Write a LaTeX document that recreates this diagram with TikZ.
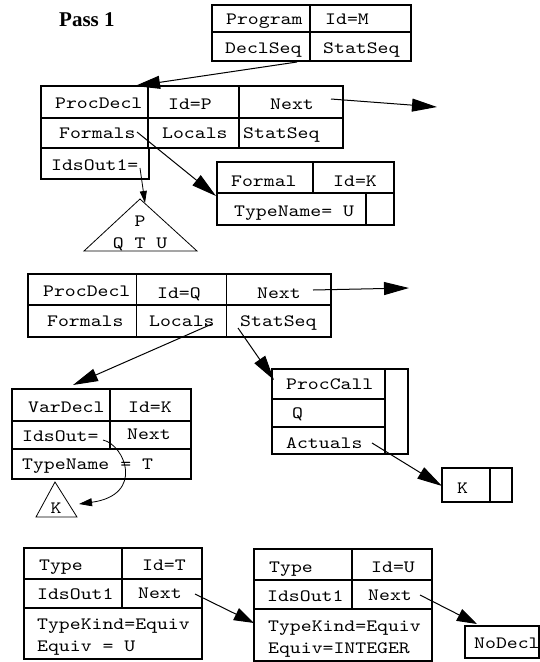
\documentclass[tikz,border=0pt]{standalone}
\usepackage{fontspec}
\setmainfont{Liberation Serif}
\newfontfamily\codefont{lmmono10-regular}[Extension=.otf, FakeStretch=1.2]
\usetikzlibrary{arrows.meta}
\begin{document}
\begin{tikzpicture}[x=1pt,y=-1pt,
  frame/.style={draw, line width=1.1pt, inner sep=0pt, outer sep=0pt, anchor=north west},
  rule/.style={line width=1.1pt},
  lbl/.style={font=\codefont\fontsize{17.3}{20}\selectfont, inner sep=0pt, anchor=base west},
  ptr/.style={line width=1pt, -{Triangle[length=25pt,width=13pt]}},
  ptrmid/.style={line width=1pt, -{Triangle[length=20pt,width=13pt]}},
  ptrsmall/.style={line width=0.8pt, -{Triangle[length=12pt,width=7pt]}},
]
\useasboundingbox (0,0) rectangle (540,662);

% heading
\node[font=\bfseries\fontsize{21}{24}\selectfont, inner sep=0pt, anchor=base west] (title) at (59,26) {Pass 1};

% Program record
\node[frame, minimum width=199pt, minimum height=56pt] (prog) at (212,5) {};
\draw[rule] (212,32) -- (411,32) (310,5) -- (310,61);
\node[lbl] (progName) at (226,24) {Program};
\node[lbl] (progId)   at (325,24) {Id=M};
\node[lbl] (progDecl) at (225,53) {DeclSeq};
\node[lbl] (progStat) at (323,53) {StatSeq};

% ProcDecl P record
\node[frame, minimum width=302pt, minimum height=62pt] (procP) at (41,86) {};
\draw[rule] (41,118) -- (343,118) (148,86) -- (148,148) (239,86) -- (239,148);
\node[frame, minimum width=108pt, minimum height=31pt] (procPids) at (41,148) {};
\node[lbl] (pName)    at (55,108)  {ProcDecl};
\node[lbl] (pId)      at (168,109) {Id=P};
\node[lbl] (pNext)    at (270,109) {Next};
\node[lbl] (pFormals) at (59,138)  {Formals};
\node[lbl] (pLocals)  at (162,138) {Locals};
\node[lbl] (pStat)    at (243,138) {StatSeq};
\node[lbl] (pIds)     at (51,170)  {IdsOut1=};

% Formal K record
\node[frame, minimum width=177pt, minimum height=63pt] (formal) at (217,162) {};
\draw[rule] (217,193) -- (394,193) (313,162) -- (313,193) (366,193) -- (366,225);
\node[lbl] (fName) at (231,186) {Formal};
\node[lbl] (fId)   at (333,186) {Id=K};
\node[lbl] (fType) at (234,216) {TypeName= U};

% identifier tree of P
\draw[line width=0.8pt] (140,199) -- (84,251) -- (197,251) -- cycle;
\node[lbl, anchor=base] (treeTop) at (140,226) {P};
\node[lbl, anchor=base] (treeRow) at (140,248) {Q T U};

% ProcDecl Q record
\node[frame, minimum width=303pt, minimum height=63pt] (procQ) at (28,274) {};
\draw[rule] (28,305) -- (331,305) (136.5,274) -- (136.5,337) (226.5,274) -- (226.5,337);
\node[lbl] (qName)    at (43,296)  {ProcDecl};
\node[lbl] (qId)      at (157,298) {Id=Q};
\node[lbl] (qNext)    at (257,298) {Next};
\node[lbl] (qFormals) at (47,326)  {Formals};
\node[lbl] (qLocals)  at (149,326) {Locals};
\node[lbl] (qStat)    at (240,326) {StatSeq};

% VarDecl K record
\node[frame, minimum width=179pt, minimum height=90pt] (varK) at (12,389) {};
\draw[rule] (12,421) -- (191,421) (12,449) -- (191,449) (110,389) -- (110,449);
\node[lbl] (vName) at (28,412)  {VarDecl};
\node[lbl] (vId)   at (128,412) {Id=K};
\node[lbl] (vIds)  at (22,441)  {IdsOut=};
\node[lbl] (vNext) at (127,439) {Next};
\node[lbl] (vType) at (22,469)  {TypeName = T};

% identifier tree of K
\draw[line width=0.8pt] (55,482) -- (36,517) -- (77,517) -- cycle;
\node[lbl, anchor=base] (treeK) at (56,513) {K};

% ProcCall record
\node[frame, minimum width=136pt, minimum height=85pt] (call) at (272,369) {};
\draw[rule] (385,369) -- (385,454) (272,399) -- (385,399) (272,427) -- (385,427);
\node[lbl] (cName) at (286,389) {ProcCall};
\node[lbl] (cProc) at (292,418) {Q};
\node[lbl] (cArgs) at (286,448) {Actuals};

% actual parameter
\node[frame, minimum width=70pt, minimum height=34pt] (actual) at (442,468) {};
\draw[rule] (490,468) -- (490,502);
\node[lbl] (aName) at (457,493) {K};

% Type T record
\node[frame, minimum width=178pt, minimum height=111pt] (typeT) at (24,548) {};
\draw[rule] (24,579) -- (202,579) (24,608) -- (202,608) (122,548) -- (122,608);
\node[lbl] (tName)  at (39,570)  {Type};
\node[lbl] (tId)    at (142,570) {Id=T};
\node[lbl] (tIds)   at (37,599)  {IdsOut1};
\node[lbl] (tNext)  at (138,598) {Next};
\node[lbl] (tKind)  at (37,629)  {TypeKind=Equiv};
\node[lbl] (tEquiv) at (37,651)  {Equiv = U};

% Type U record
\node[frame, minimum width=178pt, minimum height=112pt] (typeU) at (254,549) {};
\draw[rule] (254,580) -- (432,580) (254,609) -- (432,609) (352,549) -- (352,609);
\node[lbl] (uName)  at (269,572) {Type};
\node[lbl] (uId)    at (371,572) {Id=U};
\node[lbl] (uIds)   at (267,601) {IdsOut1};
\node[lbl] (uNext)  at (368,600) {Next};
\node[lbl] (uKind)  at (268,631) {TypeKind=Equiv};
\node[lbl] (uEquiv) at (268,653) {Equiv=INTEGER};

% end of the type list
\node[frame, minimum width=74pt, minimum height=32pt] (noDecl) at (465,626) {};
\node[lbl] (nName) at (474,648) {NoDecl};

% pointer ends
\coordinate (declFrom)    at (297,62);
\coordinate (declTo)      at (135,86);
\coordinate (pNextFrom)   at (331,99);
\coordinate (pNextTo)     at (437,107);
\coordinate (formalsFrom) at (137,132);
\coordinate (formalsTo)   at (216,196);
\coordinate (pIdsFrom)    at (140,168);
\coordinate (pIdsTo)      at (145,203);
\coordinate (localsFrom)  at (212,324);
\coordinate (localsTo)    at (73,385);
\coordinate (qStatFrom)   at (238,328);
\coordinate (qStatTo)     at (274,380);
\coordinate (qNextFrom)   at (313,290);
\coordinate (qNextTo)     at (409,288);
\coordinate (vIdsFrom)    at (103,440);
\coordinate (vIdsTo)      at (79,504);
\coordinate (argsFrom)    at (372,443);
\coordinate (argsTo)      at (442,486);
\coordinate (tNextFrom)   at (195,594);
\coordinate (tNextTo)     at (254,623);
\coordinate (uNextFrom)   at (420,595);
\coordinate (uNextTo)     at (477,624);

% pointers
\draw[ptr] (declFrom) -- (declTo);
\draw[ptr] (pNextFrom) -- (pNextTo);
\draw[ptr] (formalsFrom) -- (formalsTo);
\draw[ptrsmall] (pIdsFrom) -- (pIdsTo);
\draw[ptr] (localsFrom) -- (localsTo);
\draw[ptr] (qStatFrom) -- (qStatTo);
\draw[ptr] (qNextFrom) -- (qNextTo);
\draw[line width=0.8pt, -{Triangle[length=13pt,width=8pt]}] (vIdsFrom) .. controls (125,445) and (145,495) .. (vIdsTo);
\draw[ptr] (argsFrom) -- (argsTo);
\draw[ptrmid] (tNextFrom) -- (tNextTo);
\draw[ptrmid] (uNextFrom) -- (uNextTo);
\end{tikzpicture}
\end{document}
